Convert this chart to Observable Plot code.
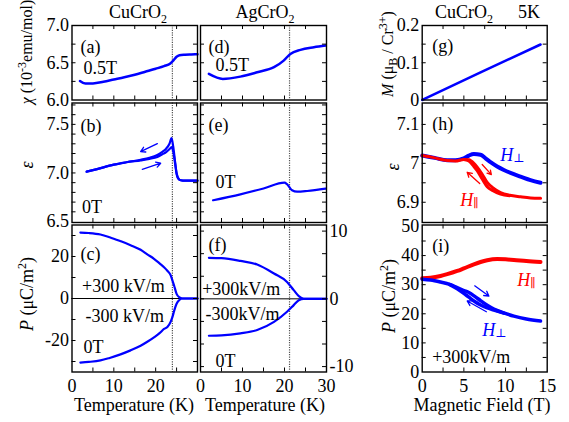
<!DOCTYPE html>
<html><head><meta charset="utf-8">
<script src="https://cdn.jsdelivr.net/npm/d3@7"></script>
<script src="https://cdn.jsdelivr.net/npm/@observablehq/plot@0.6"></script>
<style>
body{margin:0;background:#fff;}
#chart{position:relative;width:569px;height:422px;font-family:'Liberation Serif','Times New Roman',serif;color:#000;overflow:hidden;background:#fff}
.lbl{position:absolute;white-space:nowrap;line-height:1;font-size:18px}
.rot{transform:translate(-50%,-50%) rotate(-90deg)}
.ctr{transform:translate(-50%,0)}
sub,sup{font-size:12px;line-height:0}
</style></head><body><div id="chart"></div>
<script>
// ---------- data ----------
// (a) CuCrO2 chi vs T, 0.5 T
const chiCuT = [1.9, 3.2, 5, 7.5, 10, 12.5, 15, 17.5, 20, 22, 23.5, 24.3, 25, 25.7, 27, 28.5, 30];
const chiCuV = [6.255, 6.22, 6.222, 6.245, 6.275, 6.305, 6.34, 6.38, 6.42, 6.455, 6.49, 6.535, 6.58, 6.6, 6.608, 6.612, 6.615];
// (d) AgCrO2 chi vs T
const chiAgT = [2.0, 5.3, 9.5, 13.5, 17.5, 19.8, 21.4, 23.8, 27, 29.8];
const chiAgV = [6.35, 6.283, 6.314, 6.372, 6.44, 6.529, 6.619, 6.673, 6.708, 6.731];
// (b) CuCrO2 eps vs T (cooling / warming)
const epsCuT = [3.5, 6, 10, 13, 16.4, 18.5, 20.4, 21.5, 22.5, 23.3, 23.8, 24.2, 24.6, 25.0, 25.5, 26.0, 27, 28.5, 30];
const epsCuCool = [7.013, 7.04, 7.085, 7.11, 7.135, 7.155, 7.185, 7.215, 7.25, 7.3, 7.36, 7.27, 7.13, 7.0, 6.94, 6.925, 6.92, 6.92, 6.92];
const epsCuWarm = [7.013, 7.04, 7.085, 7.11, 7.13, 7.145, 7.165, 7.19, 7.215, 7.245, 7.265, 7.22, 7.11, 6.99, 6.935, 6.925, 6.92, 6.92, 6.92];
const epsCuArrowX1 = [20.4, 16.8], epsCuArrowY1 = [7.302, 7.038];
const epsCuArrowX2 = [16.4, 21.2], epsCuArrowY2 = [7.22, 7.10];
// (e) AgCrO2 eps vs T
const epsAgT = [3.0, 9.5, 15, 20.0, 20.6, 21.8, 23.0, 25.4, 29.8];
const epsAgV = [6.719, 6.78, 6.84, 6.90, 6.884, 6.822, 6.807, 6.814, 6.838];
// (c) CuCrO2 P vs T (+300 / -300 kV/m)
const pCuT = [2.0, 4, 6.8, 9, 11.6, 14, 16.4, 18, 19.6, 21, 22.0, 22.8, 23.6, 24.0, 24.4, 25.0, 25.6, 26.4, 28, 30];
const pCuPos = [31.4, 31.2, 30.5, 29.2, 27.3, 25.4, 23.2, 21.0, 18.9, 16.6, 14.9, 13.2, 11.0, 8.6, 6.2, 2.2, 0.6, 0, 0, 0];
const pCuNeg = [-30.5, -30.2, -29.5, -28.3, -26.6, -24.7, -22.5, -20.6, -18.5, -16.4, -14.5, -13.6, -11, -8.9, -6, -2.5, -0.8, 0, 0, 0];
// (f) AgCrO2 P vs T
const pAgT = [2.0, 5, 9.5, 13.5, 17.5, 20.6, 22.2, 23.4, 24.6, 27, 30];
const pAgPos = [6.05, 6.0, 5.6, 5.07, 3.74, 2.5, 1.28, 0.4, 0, 0, 0];
const pAgNeg = [-5.45, -5.4, -5.1, -4.6, -3.4, -1.9, -0.93, -0.2, 0, 0, 0];
// transition temperatures (dotted lines)
const tnCu = [24.0], tnAg = [21.2];
// (g) M vs H
const mH = [0, 7, 14.2], mV = [0, 0.074, 0.149];
// (h) eps vs H
const eHperpH = [0, 1.5, 3, 4, 5, 5.6, 6.2, 7, 7.6, 8.2, 9, 9.8, 11, 11.8, 13, 14.2];
const eHperpV = [7.02, 7.014, 7.008, 7.008, 7.013, 7.02, 7.024, 7.022, 7.013, 7.003, 6.992, 6.983, 6.972, 6.966, 6.957, 6.95];
const eHparUpH = [0, 1.5, 3, 4, 5, 5.6, 6.2, 6.6, 7.2, 7.8, 8.5, 9.4, 10.5, 11.8, 13, 14.2];
const eHparUpV = [7.02, 7.014, 7.007, 7.006, 7.01, 7.009, 7.0, 6.99, 6.972, 6.951, 6.937, 6.925, 6.918, 6.914, 6.911, 6.91];
const eHparDnH = [5, 5.6, 6.2, 6.6, 7.2, 7.8, 8.5, 9.4, 10.5];
const eHparDnV = [7.01, 7.006, 6.992, 6.981, 6.96, 6.94, 6.93, 6.921, 6.917];
const eHArrowX1 = [7.2, 6.9], eHArrowY1 = [6.997, 6.948];
const eHArrowX2 = [8.3, 5.4], eHArrowY2 = [6.971, 6.977];
// (i) P vs H
const pHparH = [0, 1, 2.2, 3, 4.2, 5, 6.2, 7, 7.8, 9, 10, 11, 12.5, 14.2];
const pHparV = [32.2, 32.4, 33.0, 33.6, 34.7, 35.6, 37.0, 37.8, 38.4, 38.8, 38.7, 38.5, 38.1, 37.8];
const pHperpUpH = [0, 1, 2.2, 3.3, 4.2, 5, 5.6, 6.3, 7, 7.8, 8.6, 9.8, 11, 12.5, 14.2];
const pHperpUpV = [31.9, 31.6, 30.9, 30.1, 29.0, 28.0, 27.3, 26.0, 24.5, 22.9, 21.6, 20.3, 19.2, 18.2, 17.5];
const pHperpDnH = [3.3, 4.2, 5, 5.6, 6.3, 7, 7.8, 8.6, 9.8];
const pHperpDnV = [30.0, 28.6, 27.0, 25.7, 24.2, 23.0, 22.0, 21.3, 20.2];
const pHArrowX1 = [6.3, 7.7], pHArrowY1 = [29.6, 20.7];
const pHArrowX2 = [8.0, 5.4], pHArrowY2 = [26.1, 24.4];
// tick labels
const chiTicks = [6.0, 6.5, 7.0];
const epsTicks = [6.5, 7.0, 7.5];
const pTicks = [-20, 0, 20];
const pAgTicks = [-10, 0, 10];
const tTicksCu = [0, 10, 20];
const tTicksAg = [0, 10, 20, 30];
const mTicks = [0, 0.1, 0.2];
const eHTicks = [6.9, 7, 7.1];
const pHTicks = [0, 10, 20, 30, 40, 50];
const hTicks = [0, 5, 10, 15];
// text
const tags = ["(a)", "(b)", "(c)", "(d)", "(e)", "(f)", "(g)", "(h)", "(i)"];
const fieldTexts = ["0.5T", "0T", "+300 kV/m", "-300 kV/m", "+300kV/m", "-300kV/m"];

// ---------- layout ----------
const FONT = "'Liberation Serif','Times New Roman',serif";
const BLUE = "#0000ff", RED = "#ff0000";
const W = 569, H = 422;
const colX = {cu: [71.5, 197], ag: [200, 326], mh: [421.7, 546.7]};
const rowY = [[25, 99.5], [102.5, 222], [224.5, 371.5]];
const chart = document.getElementById("chart");
const zip = (a, b) => a.map((v, i) => ({x: v, y: b[i]}));
const arrows = (x1, y1, x2, y2) => x1.map((v, i) => ({x1: v, y1: y1[i], x2: x2[i], y2: y2[i]}));
const line = (a, b, stroke, sw) => Plot.line(zip(a, b), {x: "x", y: "y", stroke, strokeWidth: sw, curve: "monotone-x"});
const UP = 4;
const lab = (t, dx, dy, o = {}) => Plot.text([t], {frameAnchor: "top-left", dx, dy: dy - UP, textAnchor: "start", fontSize: 18, fontFamily: FONT, ...o});
const hlab = (sub, dx, dy, color) => [
  lab("H", dx, dy, {fill: color, fontStyle: "italic"}),
  lab(sub, dx + 13, dy + 5, {fill: color, fontSize: 12, fontFamily: "DejaVu Serif"})
];
const arrowMark = (d, color) => Plot.arrow(d, {x1: "x1", y1: "y1", x2: "x2", y2: "y2", stroke: color, strokeWidth: 1.3, headLength: 6, bend: 0});
const dotted = (v) => Plot.ruleX(v, {stroke: "#555", strokeWidth: 1.2, strokeDasharray: "1.2,1.2"});
const range = (a, b, s) => d3.range(a, b + s / 2, s);

function panel({col, row, xDomain, yDomain, xt, yt, marks}) {
  const [x0, x1] = colX[col], [y0, y1] = rowY[row];
  const fw = x1 - x0, fh = y1 - y0, L = 4;
  const tk = {stroke: "black", strokeWidth: 1};
  const svg = Plot.plot({
    width: W, height: H,
    marginLeft: x0, marginRight: W - x1, marginTop: y0, marginBottom: H - y1,
    style: {background: "transparent", fontFamily: FONT, fontSize: "18px", overflow: "visible"},
    x: {domain: xDomain, axis: null},
    y: {domain: yDomain, axis: null},
    marks: [
      ...marks,
      Plot.tickX(xt, {...tk, insetTop: fh - L}),
      Plot.tickX(xt, {...tk, insetBottom: fh - L}),
      Plot.tickY(yt, {...tk, insetRight: fw - L}),
      Plot.tickY(yt, {...tk, insetLeft: fw - L}),
      Plot.frame({stroke: "black", strokeWidth: 1.4})
    ]
  });
  svg.style.position = "absolute"; svg.style.left = "0px"; svg.style.top = "0px";
  chart.appendChild(svg);
}
const yAxisL = (v, f) => Plot.axisY(v, {anchor: "left", tickSize: 0, tickPadding: 3, tickFormat: f, fontSize: 18, fontFamily: FONT, label: null});
const yAxisR = (v, f) => Plot.axisY(v, {anchor: "right", tickSize: 0, tickPadding: 3, tickFormat: f, fontSize: 18, fontFamily: FONT, label: null});
const xAxisB = (v) => Plot.axisX(v, {anchor: "bottom", tickSize: 0, tickPadding: 7, tickFormat: String, fontSize: 18, fontFamily: FONT, label: null});
const f1 = d3.format(".1f");
const tX = range(5, 25, 5), hX = range(2.5, 12.5, 2.5);

// (a)
panel({col: "cu", row: 0, xDomain: [0, 30], yDomain: [6.0, 7.0], xt: tX, yt: [6.25, 6.5, 6.75], marks: [
  dotted(tnCu), line(chiCuT, chiCuV, BLUE, 2.5), yAxisL(chiTicks, f1),
  lab(tags[0], 8.5, 19), lab(fieldTexts[0], 11.5, 40)]});
// (d)
panel({col: "ag", row: 0, xDomain: [0, 30], yDomain: [6.0, 7.0], xt: tX, yt: [6.25, 6.5, 6.75], marks: [
  dotted(tnAg), line(chiAgT, chiAgV, BLUE, 2.5),
  lab(tags[3], 8, 18.5), lab(fieldTexts[0], 15, 36.5)]});
// (b)
panel({col: "cu", row: 1, xDomain: [0, 30], yDomain: [6.49, 7.72], xt: tX, yt: range(6.6, 7.7, 0.1), marks: [
  dotted(tnCu), line(epsCuT, epsCuCool, BLUE, 2.2), line(epsCuT, epsCuWarm, BLUE, 2.2),
  arrowMark(arrows(epsCuArrowX1, epsCuArrowY1, epsCuArrowX2, epsCuArrowY2), BLUE),
  yAxisL(epsTicks, f1), lab(tags[1], 8.5, 20), lab(fieldTexts[1], 10, 101.5)]});
// (e)
panel({col: "ag", row: 1, xDomain: [0, 30], yDomain: [6.49, 7.72], xt: tX, yt: range(6.6, 7.7, 0.1), marks: [
  dotted(tnAg), line(epsAgT, epsAgV, BLUE, 2.2),
  lab(tags[4], 8, 19), lab(fieldTexts[1], 15, 76.5)]});
// (c)
panel({col: "cu", row: 2, xDomain: [0, 30], yDomain: [-35, 35], xt: tX, yt: [-30, -20, -10, 0, 10, 20, 30], marks: [
  dotted(tnCu), Plot.ruleY([0], {stroke: "black", strokeWidth: 1}),
  line(pCuT, pCuPos, BLUE, 2.2), line(pCuT, pCuNeg, BLUE, 2.2),
  yAxisL(pTicks, String), xAxisB(tTicksCu),
  lab(tags[2], 8.5, 26.5), lab(fieldTexts[2], 10, 58), lab(fieldTexts[3], 13.5, 88), lab(fieldTexts[1], 11.5, 119.5)]});
// (f)
panel({col: "ag", row: 2, xDomain: [0, 30], yDomain: [-10.8, 10.9], xt: tX, yt: [-10, -20 / 3, -10 / 3, 0, 10 / 3, 20 / 3, 10], marks: [
  dotted(tnAg), Plot.ruleY([0], {stroke: "black", strokeWidth: 1}),
  line(pAgT, pAgPos, BLUE, 2.2), line(pAgT, pAgNeg, BLUE, 2.2),
  yAxisR(pAgTicks, String), xAxisB(tTicksAg),
  lab(tags[5], 8, 17), lab(fieldTexts[4], 1.7, 61.5), lab(fieldTexts[5], 5, 86.5), lab(fieldTexts[1], 15, 133)]});
// (g)
panel({col: "mh", row: 0, xDomain: [0, 15], yDomain: [0, 0.2], xt: hX, yt: [0.05, 0.1, 0.15], marks: [
  line(mH, mV, BLUE, 2.5), yAxisL(mTicks, String), lab(tags[6], 10, 18)]});
// (h)
panel({col: "mh", row: 1, xDomain: [0, 15], yDomain: [6.848, 7.155], xt: hX, yt: [6.9, 6.95, 7, 7.05, 7.1], marks: [
  line(eHperpH, eHperpV, BLUE, 4),
  line(eHparUpH, eHparUpV, RED, 3), line(eHparDnH, eHparDnV, RED, 3),
  arrowMark(arrows(eHArrowX1, eHArrowY1, eHArrowX2, eHArrowY2), RED),
  yAxisL(eHTicks, String), lab(tags[7], 10, 18.5),
  ...hlab("⊥", 78, 49.5, BLUE), ...hlab("∥", 38, 94.5, RED)]});
// (i)
panel({col: "mh", row: 2, xDomain: [0, 15], yDomain: [0, 50.5], xt: hX, yt: range(5, 45, 5), marks: [
  line(pHparH, pHparV, RED, 4),
  line(pHperpUpH, pHperpUpV, BLUE, 3.5), line(pHperpDnH, pHperpDnV, BLUE, 3.5),
  arrowMark(arrows(pHArrowX1, pHArrowY1, pHArrowX2, pHArrowY2), BLUE),
  yAxisL(pHTicks, String), xAxisB(hTicks), lab(tags[8], 10, 18.5),
  ...hlab("∥", 95, 52.5, RED), ...hlab("⊥", 60, 102.5, BLUE), lab(fieldTexts[4], 10, 129.5)]});

// ---------- titles and axis titles ----------
const html = [
  ['ctr', 138, 3.3, 'CuCrO<sub>2</sub>'],
  ['ctr', 265, 3.3, 'AgCrO<sub>2</sub>'],
  ['ctr', 464, 2.5, 'CuCrO<sub>2</sub>'],
  ['ctr', 529, 2.5, '5K'],
  ['ctr', 134, 396, 'Temperature (K)'],
  ['ctr', 265, 396, 'Temperature (K)'],
  ['ctr', 482, 396, 'Magnetic Field (T)'],
  ['rot', 27, 52, '<i>χ</i> (10<sup>-3</sup>emu/mol)', 16],
  ['rot', 27, 165, '<i>ε</i>'],
  ['rot', 27, 294, '<i>P</i> (μC/m<sup>2</sup>)'],
  ['rot', 388, 54, '<i>M</i> (μ<sub>B</sub> / Cr<sup>3+</sup>)', 16],
  ['rot', 393, 167, '<i>ε</i>'],
  ['rot', 389, 296, '<i>P</i> (μC/m<sup>2</sup>)']
];
for (const [cls, x, y, t, fs] of html) {
  const d = document.createElement("div");
  d.className = "lbl " + cls;
  d.style.left = x + "px"; d.style.top = y + "px";
  if (fs) d.style.fontSize = fs + "px";
  d.innerHTML = t;
  chart.appendChild(d);
}
</script></body></html>
